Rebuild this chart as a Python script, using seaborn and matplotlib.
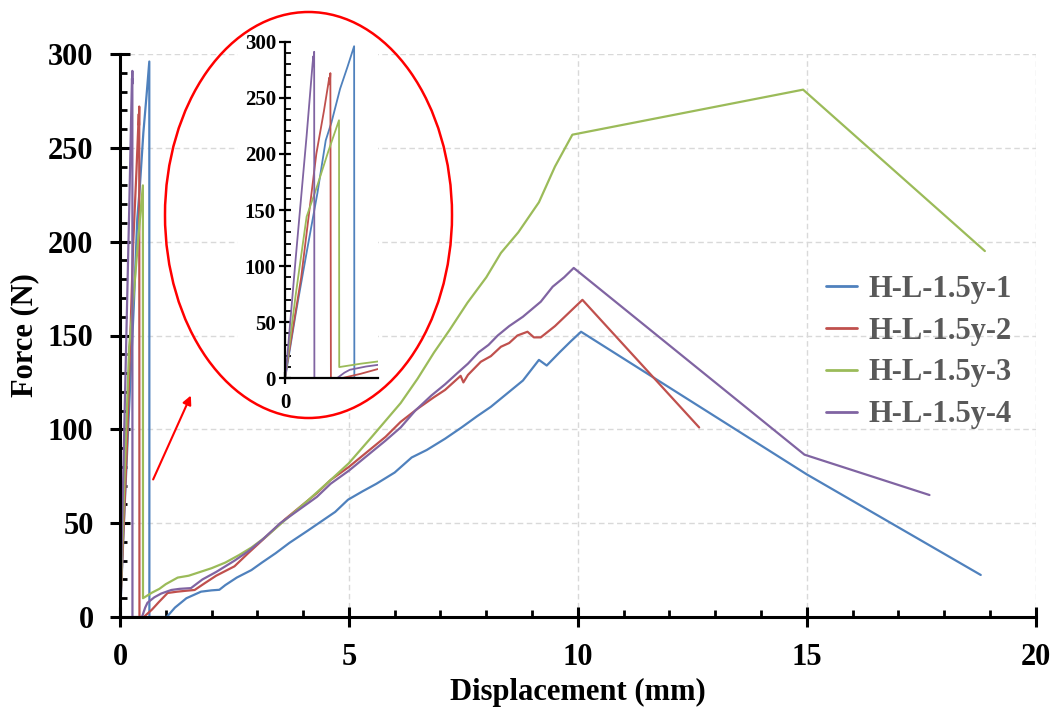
import numpy as np
import pandas as pd
import matplotlib
matplotlib.use("Agg")
import matplotlib.pyplot as plt
import seaborn as sns
from matplotlib.patches import Ellipse, Rectangle, FancyArrowPatch
from matplotlib.ticker import MultipleLocator, FixedLocator

# ---------------- data ----------------
series_names = ["H-L-1.5y-1", "H-L-1.5y-2", "H-L-1.5y-3", "H-L-1.5y-4"]
series_colors = ["#4F81BD", "#C0504D", "#9BBB59", "#8064A2"]

x_1 = [0, 0.01, 0.10, 0.20, 0.30, 0.377, 0.43, 0.51, 0.58, 0.64, 0.642, 0.80, 1.02, 1.20, 1.45,
       1.77, 2.00, 2.17, 2.30, 2.55, 2.87, 3.10, 3.40, 3.70, 4.10, 4.40, 4.70, 4.98, 5.30, 5.60,
       6.00, 6.37, 6.70, 7.10, 7.46, 7.80, 8.10, 8.50, 8.80, 9.15, 9.32, 9.60, 9.85, 10.07, 15.0, 18.8]
y_1 = [0, 5, 58, 112, 165, 212, 228, 258, 278, 296, 0, 0, 0, 5, 10,
       13.5, 14.2, 14.5, 17, 21, 25, 29, 34, 39.5, 46, 51, 56, 62.5, 67, 71,
       77, 85, 89, 95, 101, 107, 112, 120, 126, 137, 134, 141, 147, 152, 76, 22.4]

x_2 = [0, 0.015, 0.15, 0.29, 0.36, 0.40, 0.41, 0.415, 0.42, 0.425, 0.52, 0.70, 0.85, 1.04, 1.25,
       1.45, 1.63, 1.85, 2.10, 2.50, 2.80, 3.20, 3.60, 4.00, 4.30, 4.60, 5.00, 5.40, 5.80, 6.13,
       6.50, 6.85, 7.10, 7.44, 7.50, 7.60, 7.88, 8.10, 8.32, 8.50, 8.68, 8.90, 9.04, 9.19, 9.50,
       9.80, 10.1, 12.65]
y_2 = [0, 10, 90, 200, 238, 262, 268, 262, 272, 0, 0, 4, 8, 12.8, 13.5,
       14, 14.4, 18, 22, 27, 34, 43, 52, 60, 66, 73, 80, 88, 96, 104,
       111, 117, 121, 128.5, 125, 129, 136, 139, 144, 146, 150, 152, 149, 149, 155,
       162, 169, 101]

x_3 = [0, 0.01, 0.10, 0.20, 0.30, 0.40, 0.50, 0.502, 0.70, 0.86, 1.00, 1.26, 1.50, 1.75, 2.00,
       2.30, 2.60, 2.87, 3.20, 3.67, 4.10, 4.60, 5.00, 5.50, 6.13, 6.50, 6.86, 7.20, 7.59, 8.00,
       8.32, 8.70, 9.15, 9.50, 9.88, 14.92, 18.89]
y_3 = [0, 7, 75, 144, 172, 202, 230, 10, 13, 15, 17.5, 21, 22, 24, 26,
       29, 33, 37, 43, 53, 62, 73, 82, 96, 114, 127, 141, 153, 167.5, 181,
       194, 205, 221, 240, 257, 281, 195]

x_4 = [0, 0.01, 0.10, 0.20, 0.255, 0.262, 0.266, 0.27, 0.272, 0.48, 0.55, 0.60, 0.75, 0.90, 1.12,
       1.30, 1.55, 1.80, 2.10, 2.50, 2.80, 3.10, 3.50, 3.90, 4.30, 4.60, 5.00, 5.40, 5.80, 6.13,
       6.45, 6.80, 7.10, 7.37, 7.60, 7.83, 8.05, 8.25, 8.50, 8.80, 9.19, 9.45, 9.70, 9.91, 14.95, 17.68]
y_4 = [0, 7, 108, 216, 280, 287, 284, 291, 0, 0, 5, 7.6, 10.5, 12.5, 14.4,
       15, 15.4, 20, 24, 30, 35, 41, 50, 57, 64, 71, 78, 86, 94, 101,
       110, 118, 124, 130, 135, 141, 145, 150, 155, 160, 168, 176, 181, 186, 86.5, 65]

x_ticks = [0, 5, 10, 15, 20]
y_ticks = [0, 50, 100, 150, 200, 250, 300]

frames = []
for name, xs, ys in zip(series_names, [x_1, x_2, x_3, x_4], [y_1, y_2, y_3, y_4]):
    frames.append(pd.DataFrame({"Displacement": xs, "Force": ys, "Series": name,
                                "order": np.arange(len(xs))}))
df = pd.concat(frames, ignore_index=True)

# ---------------- style ----------------
sns.set_theme(style="white")
plt.rcParams["font.family"] = ["Liberation Serif", "DejaVu Serif"]
plt.rcParams["font.weight"] = "bold"
plt.rcParams["axes.labelweight"] = "bold"

W, H = 1057, 715
fig = plt.figure(figsize=(W / 100, H / 100), dpi=100)
fig.patch.set_facecolor("white")

def fx(px):
    return px / W

def fy(py):
    return 1 - py / H

ax = fig.add_axes([fx(120), fy(617), fx(1035.7) - fx(120), fy(54) - fy(617)], zorder=0)
sns.lineplot(data=df, x="Displacement", y="Force", hue="Series", hue_order=series_names,
             palette=series_colors, sort=False, estimator=None, lw=1.6, ax=ax)

ax.set_xlim(0, 20)
ax.set_ylim(0, 300)
ax.set_xticks(x_ticks)
ax.set_yticks(y_ticks)
ax.xaxis.set_minor_locator(MultipleLocator(1))
ax.yaxis.set_minor_locator(MultipleLocator(10))
for s in ["top", "right"]:
    ax.spines[s].set_visible(False)
for s in ["left", "bottom"]:
    ax.spines[s].set_color("black")
    ax.spines[s].set_linewidth(2.2)
ax.tick_params(which="major", direction="inout", length=14, width=2.2, color="black",
               labelsize=22, pad=12, labelcolor="black", left=True, bottom=True)
ax.tick_params(which="minor", direction="in", length=5, width=2, color="black",
               left=True, bottom=True)
ax.grid(which="major", color="#D9D9D9", linestyle=(0, (4, 2.5)), linewidth=1)
ax.set_axisbelow(True)
ax.set_xlabel("Displacement (mm)", fontsize=22, fontweight="bold", labelpad=4, color="black")
ax.set_ylabel("Force (N)", fontsize=22, fontweight="bold", labelpad=6, color="black")

handles, labels = ax.get_legend_handles_labels()
leg = ax.legend(handles, labels, loc="center left", bbox_to_anchor=(fx(826), fy(352)),
                bbox_transform=fig.transFigure, frameon=False, fontsize=22,
                handlelength=1.0, handletextpad=0.4, labelspacing=0.42,
                borderpad=0, borderaxespad=0)
for t in leg.get_texts():
    t.set_color("#595959")
for l in leg.get_lines():
    l.set_linewidth(2)

# white box behind the inset
fig.add_artist(Rectangle((fx(238), fy(412)), fx(378) - fx(238), fy(20) - fy(412),
                         transform=fig.transFigure, facecolor="white", edgecolor="none",
                         zorder=2))

# ---------------- inset ----------------
ins = fig.add_axes([fx(285), fy(378.3), fx(378) - fx(285), fy(41.7) - fy(378.3)], zorder=3)
ins.patch.set_alpha(0)
sns.lineplot(data=df, x="Displacement", y="Force", hue="Series", hue_order=series_names,
             palette=series_colors, sort=False, estimator=None, lw=1.3, ax=ins, legend=False)
ins.set_xlim(0, 0.861)
ins.set_ylim(0, 300)
ins.xaxis.set_major_locator(FixedLocator([0]))
ins.set_yticks(y_ticks)
ins.yaxis.set_minor_locator(MultipleLocator(10))
for s in ["top", "right"]:
    ins.spines[s].set_visible(False)
for s in ["left", "bottom"]:
    ins.spines[s].set_color("black")
    ins.spines[s].set_linewidth(1.6)
ins.tick_params(which="major", direction="inout", length=9, width=1.6, color="black",
                labelsize=15, pad=2, labelcolor="black", left=True, bottom=True)
ins.tick_params(axis="x", which="major", pad=6)
ins.tick_params(which="minor", direction="in", length=4, width=1.3, color="black", left=True)
ins.set_xlabel("")
ins.set_ylabel("")
ins.grid(False)

# ---------------- annotations ----------------
fig.add_artist(Ellipse((fx(308.5), fy(215)), fx(287), 406 / H, transform=fig.transFigure,
                       fill=False, edgecolor="#FF0000", lw=1.8, zorder=5))
fig.add_artist(FancyArrowPatch((fx(152), fy(482)), (fx(192), fy(393)),
                               transform=fig.transFigure, arrowstyle="-|>",
                               mutation_scale=13, color="#FF0000", lw=1.5, zorder=5))

fig.savefig("out.png", dpi=100, facecolor="white")
